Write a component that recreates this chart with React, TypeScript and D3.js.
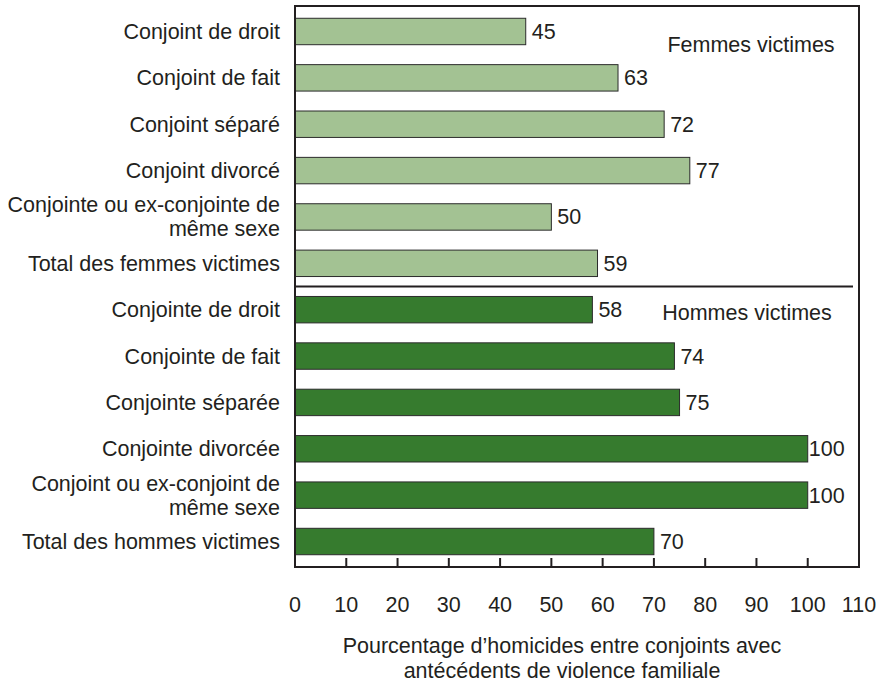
import React from "react";
import * as d3 from "d3";

const categories = [
  ["Conjoint de droit"],
  ["Conjoint de fait"],
  ["Conjoint séparé"],
  ["Conjoint divorcé"],
  ["Conjointe ou ex-conjointe de", "même sexe"],
  ["Total des femmes victimes"],
  ["Conjointe de droit"],
  ["Conjointe de fait"],
  ["Conjointe séparée"],
  ["Conjointe divorcée"],
  ["Conjoint ou ex-conjoint de", "même sexe"],
  ["Total des hommes victimes"],
];
const values = [45, 63, 72, 77, 50, 59, 58, 74, 75, 100, 100, 70];
const groups = ["F", "F", "F", "F", "F", "F", "H", "H", "H", "H", "H", "H"];
const groupLabels = ["Femmes victimes", "Hommes victimes"];
const xTicks = [0, 10, 20, 30, 40, 50, 60, 70, 80, 90, 100, 110];
const axisTitle = ["Pourcentage d’homicides entre conjoints avec", "antécédents de violence familiale"];

export default function App() {
  const W = 877, H = 683;
  const left = 295, right = 859, top = 6, bottom = 567;
  const x = d3.scaleLinear().domain([0, 110]).range([left, right]);
  const y = d3.scaleBand<number>().domain(d3.range(categories.length)).range([top + 3, bottom - 3]).paddingInner(0.43).paddingOuter(0.2);
  const font = "'Liberation Sans', Arial, sans-serif";
  const fs = 21.5;
  const sepY = (y(5)! + y.bandwidth() + y(6)!) / 2;
  return (
    <svg width={W} height={H} style={{ position: "absolute", left: 0, top: 0, background: "#fff" }} fontFamily={font}>
      {values.map((v, i) => {
        const yy = y(i)!;
        const cy = yy + y.bandwidth() / 2;
        const lines = categories[i];
        return (
          <g key={i}>
            <rect x={x(0)} y={yy} width={x(v) - x(0)} height={y.bandwidth()}
              fill={groups[i] === "F" ? "#a3c293" : "#367b2e"} stroke="#2b2b2b" strokeWidth={1} />
            <text x={x(v) + (v >= 100 ? 1 : 6)} y={cy} dy="0.35em" fontSize={fs} fill="#231f20">{v}</text>
            {lines.map((l, j) => (
              <text key={j} x={280} y={cy + (j - (lines.length - 1) / 2) * 24} dy="0.35em" textAnchor="end" fontSize={fs} fill="#231f20">{l}</text>
            ))}
          </g>
        );
      })}
      <line x1={left} x2={right - 6} y1={sepY} y2={sepY} stroke="#231f20" strokeWidth={2} />
      <text x={751} y={y(0)! + y.bandwidth() / 2 + 13} dy="0.35em" textAnchor="middle" fontSize={fs} fill="#231f20">{groupLabels[0]}</text>
      <text x={747} y={y(6)! + y.bandwidth() / 2 + 3} dy="0.35em" textAnchor="middle" fontSize={fs} fill="#231f20">{groupLabels[1]}</text>
      <rect x={left} y={top} width={right - left} height={bottom - top} fill="none" stroke="#231f20" strokeWidth={2} />
      {xTicks.map((t) => (
        <g key={t}>
          {t > 0 && t < 110 && <line x1={x(t)} x2={x(t)} y1={bottom} y2={bottom - 9} stroke="#231f20" strokeWidth={2} />}
          <text x={x(t)} y={604} dy="0.35em" textAnchor="middle" fontSize={fs} fill="#231f20">{t}</text>
        </g>
      ))}
      {axisTitle.map((l, j) => (
        <text key={j} x={562} y={645 + j * 25} dy="0.35em" textAnchor="middle" fontSize={fs} fill="#231f20">{l}</text>
      ))}
    </svg>
  );
}
